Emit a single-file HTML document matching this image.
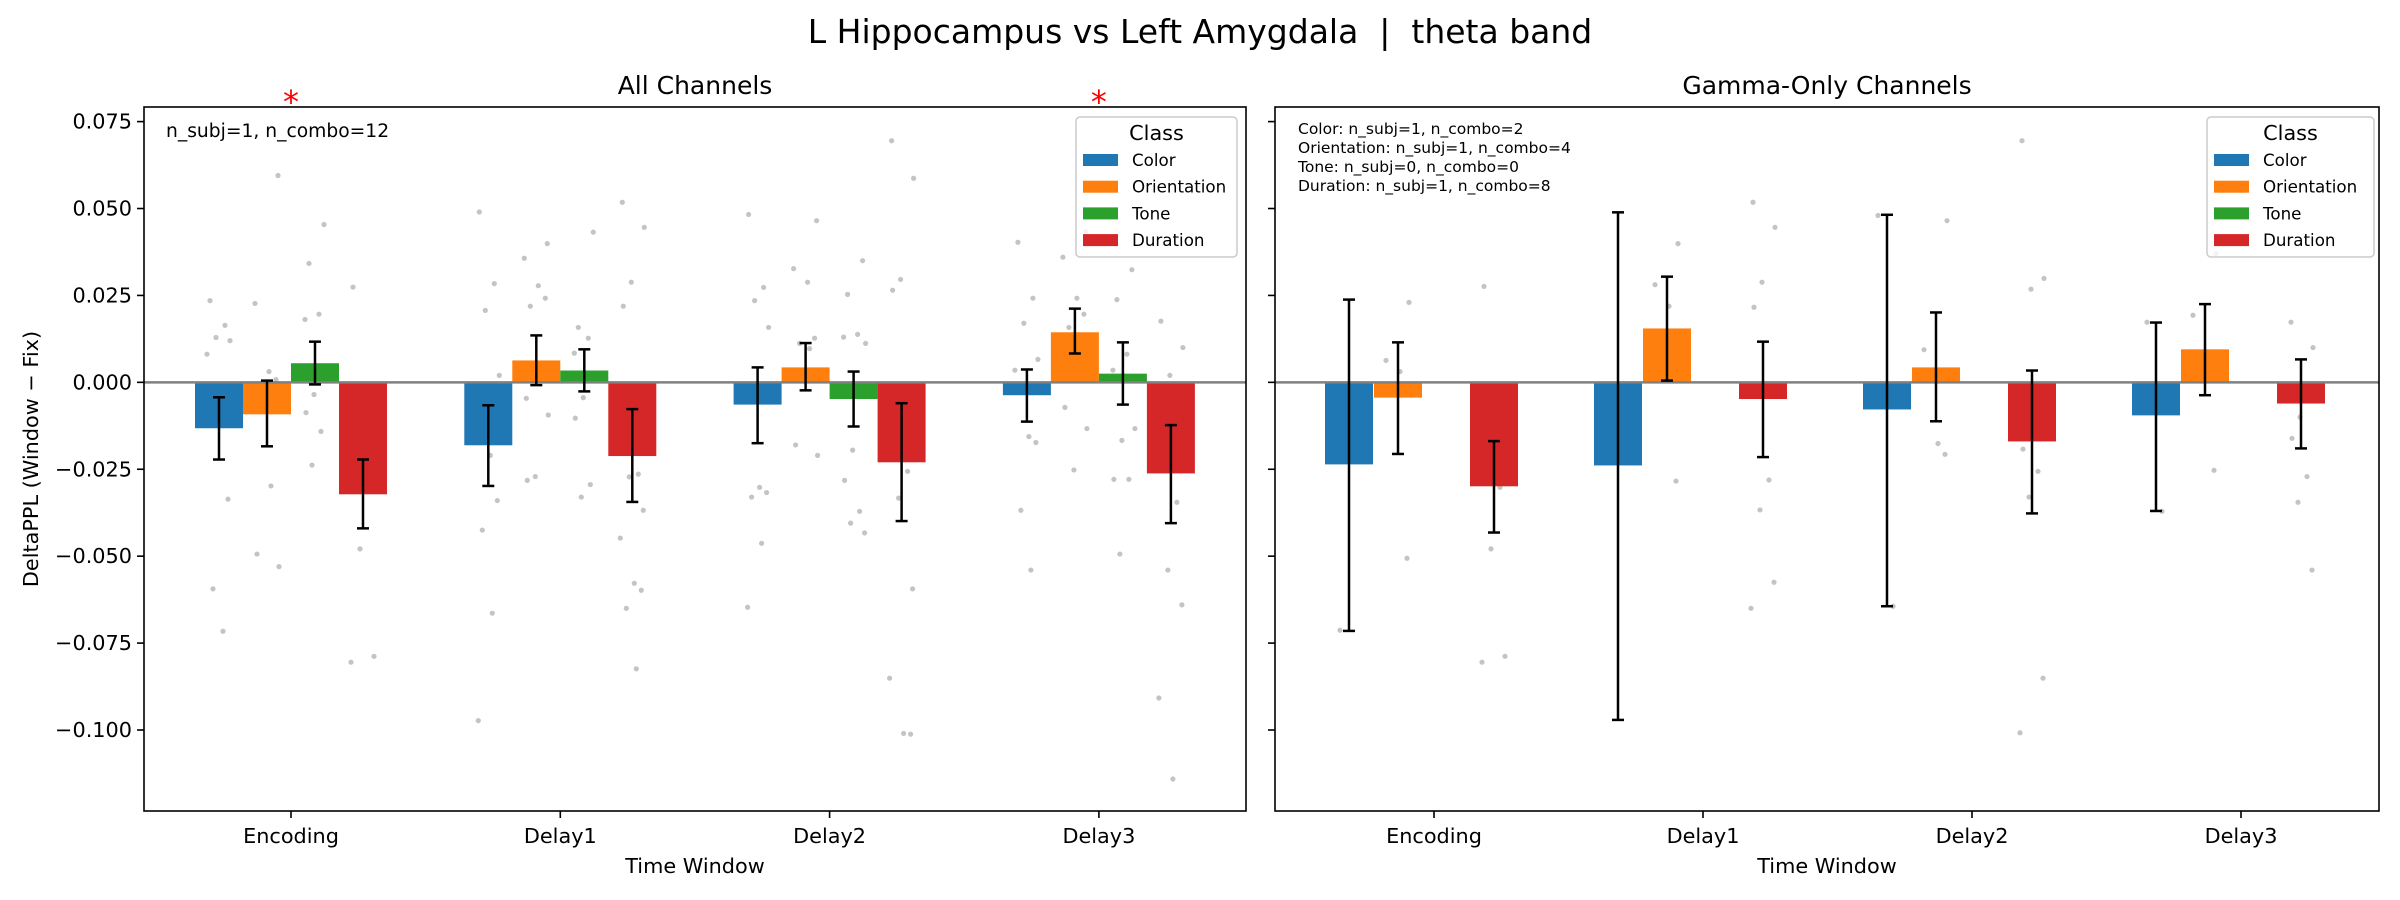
<!DOCTYPE html>
<html><head><meta charset="utf-8">
<style>
html,body{margin:0;padding:0;background:#fff;}
svg{display:block;font-family:"DejaVu Sans","Liberation Sans",sans-serif;}
</style></head>
<body>
<svg id="fig" width="2400" height="900" viewBox="0 0 2400 900" xmlns="http://www.w3.org/2000/svg">
<rect x="0" y="0" width="2400" height="900" fill="#fff"/>
<text x="1200" y="43" font-size="33" text-anchor="middle" fill="#000" style="white-space:pre" xml:space="preserve">L Hippocampus vs Left Amygdala  |  theta band</text>
</svg>
<script>
const categories = ["Encoding","Delay1","Delay2","Delay3"];
const classes = ["Color","Orientation","Tone","Duration"];
const colors = ["#1f77b4","#ff7f0e","#2ca02c","#d62728"];
const yTicks = [0.075,0.05,0.025,0,-0.025,-0.05,-0.075,-0.1];
const yTickLabels = ["0.075","0.050","0.025","0.000","\u22120.025","\u22120.050","\u22120.075","\u22120.100"];

// All channels: means, err low, err high per class (rows) x category (cols)
const allMean = [[-0.0132,-0.0181,-0.0064,-0.0037],[-0.0092,0.0063,0.0043,0.0144],[0.0055,0.0034,-0.0048,0.0025],[-0.0322,-0.0212,-0.023,-0.0262]];
const allLo = [[-0.0222,-0.0298,-0.0175,-0.0113],[-0.0184,-0.0008,-0.0023,0.0083],[-0.0006,-0.0026,-0.0127,-0.0064],[-0.042,-0.0344,-0.0399,-0.0405]];
const allHi = [[-0.0043,-0.0066,0.0043,0.0037],[0.0005,0.0135,0.0113,0.0212],[0.0117,0.0095,0.0031,0.0115],[-0.0222,-0.0077,-0.006,-0.0123]];
const allDots = [
 [[0.0235,0.0164,0.0129,0.012,0.0081,-0.0018,-0.0336,-0.0594,-0.0716],[0.049,0.0284,0.0207,0.002,-0.0072,-0.021,-0.034,-0.0425,-0.0664,-0.0973],[0.0483,0.0273,0.0235,0.0158,-0.0026,-0.0302,-0.0317,-0.033,-0.0463,-0.0647],[0.0403,0.0242,0.017,0.0066,0.0035,-0.0156,-0.0173,-0.0368,-0.054]],
 [[0.0595,0.0227,0.0031,0.0008,-0.0072,-0.0298,-0.0494,-0.053],[0.0399,0.0357,0.0278,0.0242,0.0219,0.0038,-0.0046,-0.0094,-0.0271,-0.0282],[0.0465,0.0327,0.0288,0.0127,0.0112,0.0097,-0.018,-0.021],[0.0434,0.036,0.0242,0.0196,0.0158,0.0089,-0.0072,-0.0133,-0.0252]],
 [[0.0454,0.0342,0.0196,0.0181,0.0038,-0.0035,-0.0087,-0.0141,-0.0238],[0.0432,0.0158,0.0127,0.0084,0.002,-0.0044,-0.0103,-0.0294,-0.033],[0.035,0.0253,0.0138,0.013,0.0112,-0.0195,-0.0282,-0.0371,-0.0405,-0.0433],[0.0324,0.0238,0.0081,0.0035,-0.0133,-0.0167,-0.0279,-0.0279,-0.0494]],
 [[0.0274,-0.0026,-0.0057,-0.0087,-0.018,-0.0479,-0.0788,-0.0805],[0.0518,0.0446,0.0288,0.0219,-0.0264,-0.0272,-0.0368,-0.0448,-0.0578,-0.0598,-0.065,-0.0824],[0.0695,0.0587,0.0296,0.0265,-0.0256,-0.0333,-0.0594,-0.0851,-0.101,-0.1012],[0.0176,0.01,0.002,-0.0095,-0.0345,-0.054,-0.064,-0.0908,-0.1141]]
];
const allStars = [0,3];

// Gamma-only channels (Tone absent)
const gamMean = [[-0.0236,-0.0239,-0.0078,-0.0095],[-0.0044,0.0155,0.0043,0.0095],[null,null,null,null],[-0.0299,-0.0048,-0.017,-0.0061]];
const gamLo = [[-0.0715,-0.0971,-0.0644,-0.037],[-0.0206,0.0005,-0.0112,-0.0037],[null,null,null,null],[-0.0432,-0.0215,-0.0377,-0.019]];
const gamHi = [[0.0238,0.0489,0.0482,0.0172],[0.0115,0.0304,0.0201,0.0225],[null,null,null,null],[-0.0169,0.0117,0.0034,0.0066]];
const gamDots = [
 [[-0.0713],[],[0.048,-0.0644],[0.0173,-0.0371]],
 [[0.023,0.0063,0.0031,-0.0506],[0.0399,0.0281,0.0219,-0.0284],[0.0465,0.0094,-0.0176,-0.0207],[0.037,0.0193,0.0069,-0.0253]],
 [[],[],[],[]],
 [[0.0276,-0.0029,-0.0087,-0.0176,-0.0302,-0.0479,-0.0788,-0.0805],[0.0518,0.0446,0.0288,0.0216,-0.0281,-0.0367,-0.0575,-0.065],[0.0695,0.0299,0.0268,-0.0192,-0.0256,-0.033,-0.0851,-0.1008],[0.0173,0.01,-0.01,-0.0161,-0.0271,-0.0345,-0.054]]
];

const NS="http://www.w3.org/2000/svg";
const svg=document.getElementById('fig');
function mk(tag,attrs,parent){const e=document.createElementNS(NS,tag);for(const k in attrs)e.setAttribute(k,attrs[k]);(parent||svg).appendChild(e);return e;}
const Y0=107, Y1=811;
const yMin=-0.1233, yMax=0.0792;
function yScale(v){return Y1-(v-yMin)/(yMax-yMin)*(Y1-Y0);}
const jit=[-9,6,-3,11,-12,2,9,-6,4,-10,12,-1];

function panel(cfg){
  const g=mk('g',{});
  
  
  const xS=i=>cfg.c0+i*cfg.step;
  const t=mk('text',{x:(cfg.x0+cfg.x1)/2,y:94,'font-size':25,'text-anchor':'middle'},g);
  t.textContent=cfg.title;
  
  
  cfg.dots.forEach((cls,ci)=>cls.forEach((vals,k)=>vals.forEach((v,j)=>{
    const d=mk('circle',{cx:xS(k)+cfg.off[ci]+jit[(j+ci*3)%jit.length],cy:yScale(v),r:2.6,fill:'#b0b0b0','fill-opacity':0.75},g);
    
    
  })));
  cfg.mean.forEach((row,ci)=>row.forEach((v,k)=>{
    if(v===null)return;
    const x=xS(k)+cfg.off[ci]-24;
    const b=mk('rect',{x:x,y:Math.min(yScale(v),yScale(0)),width:48,height:Math.abs(yScale(v)-yScale(0)),fill:colors[ci]},g);
    
    
  }));
  const zl=mk('line',{x1:cfg.x0,x2:cfg.x1,y1:yScale(0),y2:yScale(0),stroke:'#808080','stroke-width':2.5},g);
  
  
  cfg.mean.forEach((row,ci)=>row.forEach((v,k)=>{
    if(v===null)return;
    const cx=xS(k)+cfg.off[ci];
    const lo=yScale(cfg.lo[ci][k]),hi=yScale(cfg.hi[ci][k]);
    const eg=mk('g',{stroke:'#000','stroke-width':2.5},g);
    
    
    mk('line',{x1:cx,x2:cx,y1:lo,y2:hi},eg);
    mk('line',{x1:cx-6,x2:cx+6,y1:lo,y2:lo},eg);
    mk('line',{x1:cx-6,x2:cx+6,y1:hi,y2:hi},eg);
  }));
  const fr=mk('rect',{x:cfg.x0,y:Y0,width:cfg.x1-cfg.x0,height:Y1-Y0,fill:'none',stroke:'#000','stroke-width':1.6},g);
  
  
  yTicks.forEach((v,i)=>{
    const y=yScale(v);
    mk('line',{x1:cfg.x0-7,x2:cfg.x0,y1:y,y2:y,stroke:'#000','stroke-width':1.6},g);
    if(cfg.ylabels){
      const tl=mk('text',{x:cfg.x0-12,y:y+7,'font-size':20.8,'text-anchor':'end'},g);
      tl.textContent=yTickLabels[i];
      
      
    }
  });
  categories.forEach((c,k)=>{
    const x=xS(k);
    mk('line',{x1:x,x2:x,y1:Y1,y2:Y1+7,stroke:'#000','stroke-width':1.6},g);
    const tl=mk('text',{x:x,y:843,'font-size':20.8,'text-anchor':'middle'},g);
    tl.textContent=c;
    
    
  });
  const xl=mk('text',{x:(cfg.x0+cfg.x1)/2,y:873,'font-size':20.8,'text-anchor':'middle'},g);
  xl.textContent='Time Window';
  
  
  (cfg.stars||[]).forEach(k=>{
    const s=mk('text',{x:xS(k),y:113,'font-size':32,'text-anchor':'middle',fill:'#ff0000'},g);
    s.textContent='*';
    
    
  });
  cfg.notes.forEach((n,i)=>{
    const a=mk('text',{x:cfg.noteX,y:cfg.noteY+i*19,'font-size':cfg.noteSize},g);
    a.textContent=n;
    
    
  });
  const lx=cfg.legX, lg=mk('g',{},g);
  
  
  mk('rect',{x:lx,y:117,width:cfg.legW,height:140,rx:4,fill:'#fff','fill-opacity':0.8,stroke:'#ccc','stroke-width':1.5},lg);
  const lt=mk('text',{x:lx+cfg.legW/2,y:140,'font-size':20.8,'text-anchor':'middle'},lg);
  lt.textContent='Class';
  
  
  classes.forEach((c,i)=>{
    const y=160+i*26.7;
    const p=mk('rect',{x:lx+7,y:y-6,width:35,height:12,fill:colors[i]},lg);
    
    
    const tx=mk('text',{x:lx+56,y:y+6,'font-size':16.7},lg);
    tx.textContent=c;
    
    
  });
}

panel({name:'all-channels-panel',title:'All Channels',x0:144,x1:1246,c0:291,step:269.3,off:[-72,-24,24,72],
  mean:allMean,lo:allLo,hi:allHi,dots:allDots,ylabels:true,stars:allStars,
  notes:['n_subj=1, n_combo=12'],noteX:166,noteY:137,noteSize:18.7,legX:1076,legW:161});
panel({name:'gamma-only-panel',title:'Gamma-Only Channels',x0:1275,x1:2379,c0:1434,step:269,off:[-85,-36,12,60],
  mean:gamMean,lo:gamLo,hi:gamHi,dots:gamDots,ylabels:false,stars:[],
  notes:['Color: n_subj=1, n_combo=2','Orientation: n_subj=1, n_combo=4','Tone: n_subj=0, n_combo=0','Duration: n_subj=1, n_combo=8'],
  noteX:1298,noteY:134,noteSize:15.5,legX:2207,legW:167});

const yl=mk('text',{x:0,y:0,'font-size':20.8,'text-anchor':'middle',transform:'translate(38,459) rotate(-90)'});
yl.textContent='DeltaPPL (Window \u2212 Fix)';


</script>
</body></html>
